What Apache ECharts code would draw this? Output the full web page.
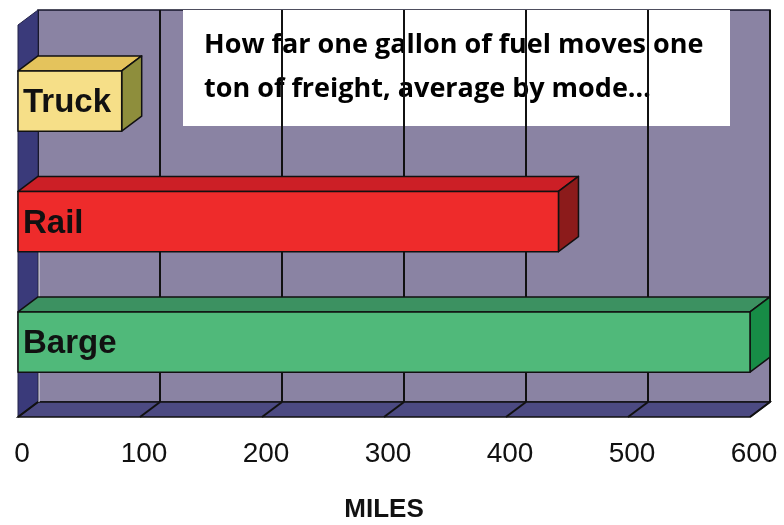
<!DOCTYPE html>
<html>
<head>
<meta charset="utf-8">
<script src="https://cdn.jsdelivr.net/npm/echarts@6/dist/echarts.min.js"></script>
<style>
  html, body { margin: 0; padding: 0; background: #fff; }
  #chart { width: 784px; height: 525px; }
</style>
</head>
<body>
<div id="chart"></div>
<script>
const modes = ['Truck', 'Rail', 'Barge'];
const miles = [85, 443, 600];
const tickValues = [0, 100, 200, 300, 400, 500, 600];
const titleLines = ['How far one gallon of fuel moves one', 'ton of freight, average by mode\u2026'];

const faceColors = ['#f6df88', '#ee2b2b', '#50b97a'];
const topColors = ['#e4c35c', '#cc1f26', '#3c9161'];
const sideColors = ['#8e8e3c', '#8c1b1b', '#178c46'];

// depth of the fake 3d: front plane -> back wall
const DX = 20, DY = 15;
const edge = { stroke: '#111', lineWidth: 1.5, lineJoin: 'round' };

const chart = echarts.init(document.getElementById('chart'));

chart.setOption({
  animation: false,
  grid: [
    // back wall
    { left: 38, right: 14, top: 10, bottom: 123, outerBoundsMode: 'none',
      show: true, backgroundColor: '#8a83a3', borderColor: '#15152a', borderWidth: 1.5 },
    // front plane, where the bars and labels live
    { left: 18, right: 34, top: 40.75, bottom: 122.75, outerBoundsMode: 'none' }
  ],
  xAxis: [
    {
      gridIndex: 0, type: 'value', min: 0, max: 600, interval: 100,
      axisLine: { show: false }, axisTick: { show: false }, axisLabel: { show: false },
      splitLine: { show: true, lineStyle: { color: '#111', width: 2 } }
    },
    {
      gridIndex: 1, type: 'value', min: 0, max: 600, interval: 100,
      axisLine: { show: false }, axisTick: { show: false }, splitLine: { show: false },
      axisLabel: { fontSize: 28, color: '#111', fontFamily: 'Liberation Sans', margin: 38, padding: [0, 0, 0, 8] },
      name: 'MILES', nameLocation: 'middle', nameGap: 95,
      nameTextStyle: { fontSize: 26, fontWeight: 'bold', color: '#111', fontFamily: 'Liberation Sans' }
    }
  ],
  yAxis: [
    { gridIndex: 0, type: 'value', min: 0, max: 1, show: false },
    { gridIndex: 1, type: 'category', data: modes, inverse: true, show: false }
  ],
  series: [
    {
      // side wall and floor
      type: 'custom', xAxisIndex: 0, yAxisIndex: 0, z: 1, silent: true,
      data: [[0, 600]],
      renderItem(params, api) {
        const tl = api.coord([api.value(0), 1]);
        const bl = api.coord([api.value(0), 0]);
        const br = api.coord([api.value(1), 0]);
        return {
          type: 'group',
          children: [
            { type: 'polygon', shape: { points: [tl, [tl[0] - DX, tl[1] + DY], [bl[0] - DX, bl[1] + DY], bl] },
              style: { fill: '#3a3a7a', stroke: '#222248', lineWidth: 1 } },
            { type: 'polygon', shape: { points: [bl, br, [br[0] - DX, br[1] + DY], [bl[0] - DX, bl[1] + DY]] },
              style: { fill: '#4c4a82', stroke: '#111', lineWidth: 1.5 } },
            { type: 'line', shape: { x1: bl[0] + 1, y1: bl[1] - 150, x2: bl[0] + 1, y2: bl[1] },
              style: { stroke: '#e8e8f0', lineWidth: 1 } }
          ]
        };
      }
    },
    {
      // floor lines continuing the grid
      type: 'custom', xAxisIndex: 0, yAxisIndex: 0, z: 1, silent: true,
      data: tickValues.map(v => [v]),
      renderItem(params, api) {
        const p = api.coord([api.value(0), 0]);
        return {
          type: 'group',
          children: [
            { type: 'line', shape: { x1: p[0], y1: p[1], x2: p[0] - DX, y2: p[1] + DY }, style: { stroke: '#111', lineWidth: 2 } },
            { type: 'line', shape: { x1: p[0] - DX, y1: p[1] + DY + 1, x2: p[0] - DX, y2: p[1] + DY + 6 }, style: { stroke: '#fff', lineWidth: 1 } }
          ]
        };
      }
    },
    {
      // 3d bars
      type: 'custom', xAxisIndex: 1, yAxisIndex: 1, z: 3,
      data: miles.map((v, i) => [v, i]),
      encode: { x: 0, y: 1 },
      renderItem(params, api) {
        const idx = api.value(1);
        const end = api.coord([api.value(0), idx]);
        const start = api.coord([0, idx]);
        const h = api.size([0, 1])[1] * 0.5;
        const x0 = start[0], x1 = end[0];
        const y0 = end[1] - h / 2, y1 = end[1] + h / 2;
        return {
          type: 'group',
          children: [
            { type: 'polygon', shape: { points: [[x0, y0], [x0 + DX, y0 - DY], [x1 + DX, y0 - DY], [x1, y0]] },
              style: Object.assign({ fill: topColors[idx] }, edge) },
            { type: 'polygon', shape: { points: [[x1, y0], [x1 + DX, y0 - DY], [x1 + DX, y1 - DY], [x1, y1]] },
              style: Object.assign({ fill: sideColors[idx] }, edge) },
            { type: 'rect', shape: { x: x0, y: y0, width: x1 - x0, height: h },
              style: Object.assign({ fill: faceColors[idx] }, edge) },
            { type: 'text', style: { text: modes[idx], x: x0 + 5, y: end[1] + 2, verticalAlign: 'middle',
              font: 'bold 33px "Liberation Sans"', fill: '#111' } }
          ]
        };
      }
    }
  ],
  graphic: [
    {
      type: 'group', left: 183, top: 10, z: 10,
      children: [
        { type: 'rect', shape: { x: 0, y: 0, width: 547, height: 116 }, style: { fill: '#fff' } },
        { type: 'text', x: 21, y: 35, style: { text: titleLines[0], font: 'bold 27px "Open Sans"', fill: '#000', verticalAlign: 'middle' } },
        { type: 'text', x: 21, y: 79, style: { text: titleLines[1], font: 'bold 27px "Open Sans"', fill: '#000', verticalAlign: 'middle' } }
      ]
    }
  ]
});
</script>
</body>
</html>
